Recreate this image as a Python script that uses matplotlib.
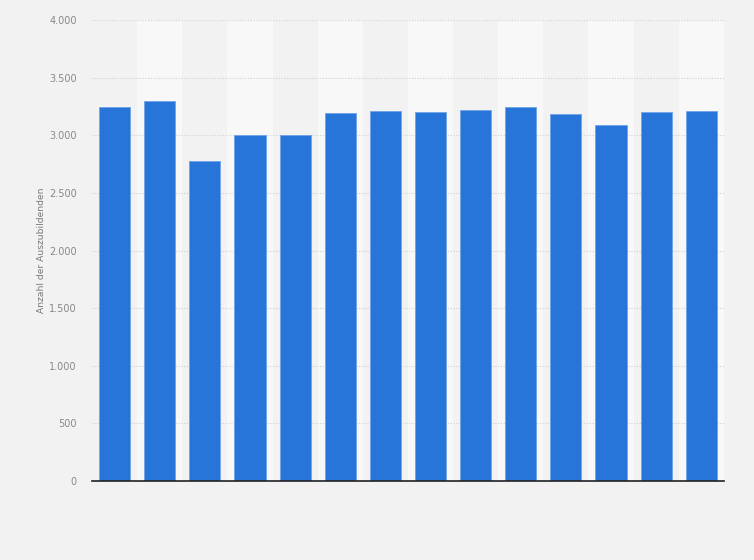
import numpy as np
import matplotlib
matplotlib.use("Agg")
import matplotlib.pyplot as plt

# ----- DATA -----
slots = list(range(14))  # no category labels shown in the chart
apprentices = [3250, 3300, 2780, 3000, 3000, 3195, 3210, 3200, 3220, 3250, 3185, 3090, 3200, 3210]
y_ticks = [0, 500, 1000, 1500, 2000, 2500, 3000, 3500, 4000]
y_tick_labels = ["0", "500", "1.000", "1.500", "2.000", "2.500", "3.000", "3.500", "4.000"]

# ----- PLOT -----
bg = "#f2f2f2"
fig = plt.figure(figsize=(7.54, 5.6), dpi=100, facecolor=bg)
ax = fig.add_axes([0.122, 0.141, 0.838, 0.823])
ax.set_facecolor(bg)

# Alternating column bands
for i in slots:
    if i % 2 == 1:
        ax.axvspan(i - 0.5, i + 0.5, color="#f8f8f8", zorder=0, lw=0)

ax.bar(slots, apprentices, width=0.69, color="#2775d8",
       edgecolor="#6fa3e8", linewidth=0.6, zorder=3)

ax.set_xlim(-0.5, 13.5)
ax.set_ylim(0, 4000)
ax.set_yticks(y_ticks)
ax.set_yticklabels(y_tick_labels)
ax.set_xticks([])

ax.grid(axis="y", color="#d0d0d0", linestyle=(0, (1, 1.5)), linewidth=0.8, zorder=1)
for s in ["top", "right", "left"]:
    ax.spines[s].set_visible(False)
ax.spines["bottom"].set_color("#222222")
ax.spines["bottom"].set_linewidth(1.2)
ax.spines["bottom"].set_zorder(4)

ax.tick_params(axis="y", length=0, pad=11, labelsize=7, labelcolor="#888888")
ax.set_ylabel("Anzahl der Auszubildenden", fontsize=6.6, color="#777777", labelpad=2)

fig.savefig("out.png", dpi=100, facecolor=bg)
